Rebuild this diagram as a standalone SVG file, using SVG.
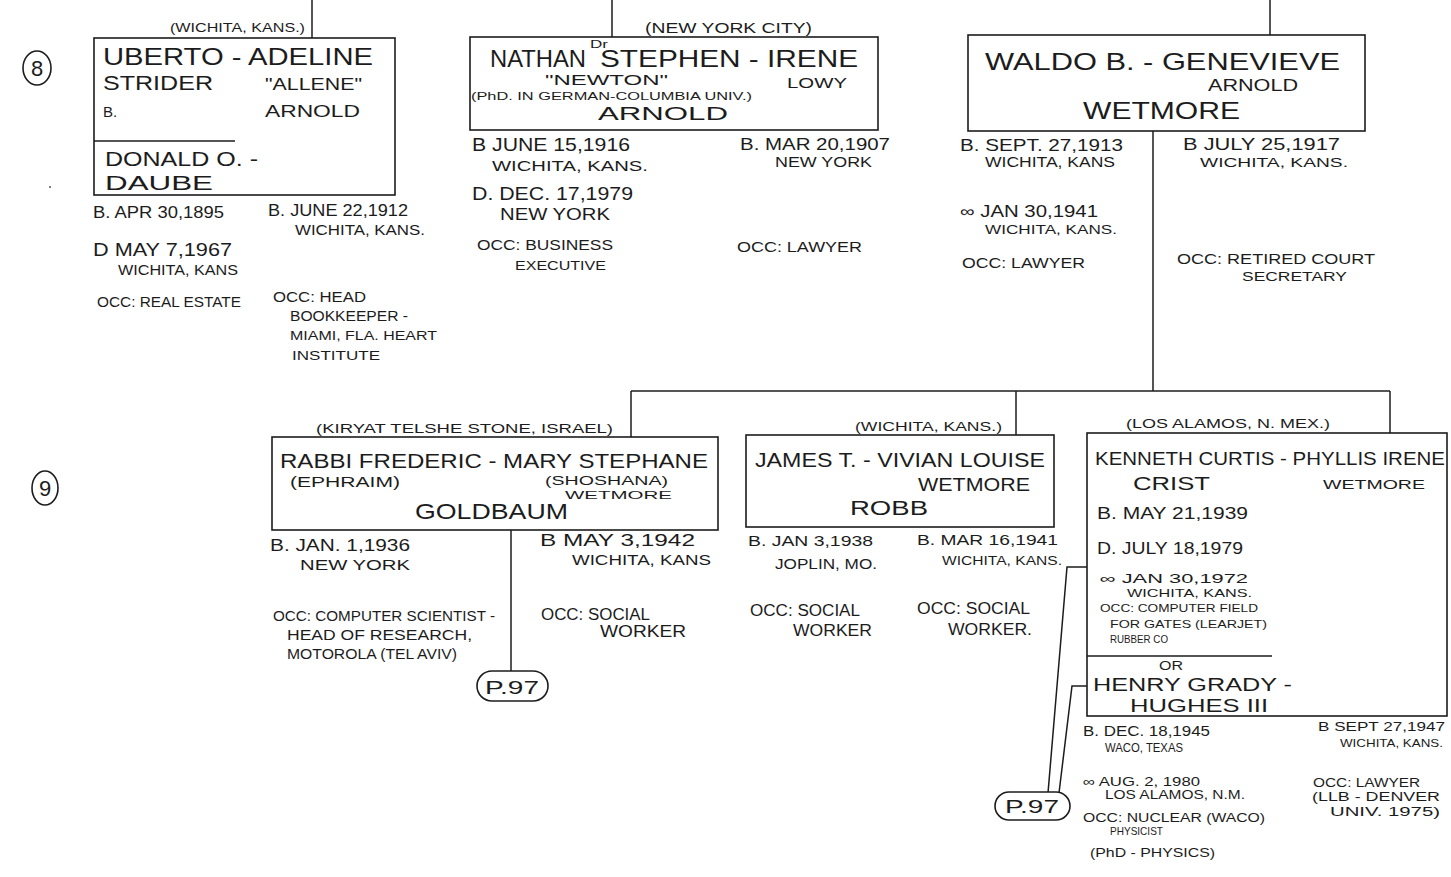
<svg xmlns="http://www.w3.org/2000/svg" width="1451" height="877" viewBox="0 0 1451 877">
<style>
text{font-family:"Liberation Sans","DejaVu Sans",Arial,sans-serif;fill:#1c1c1c;}
.box{fill:none;stroke:#1c1c1c;stroke-width:1.6;}
.ln{fill:none;stroke:#1c1c1c;stroke-width:1.5;}
.ov{fill:#fff;stroke:#1c1c1c;stroke-width:1.6;}
</style>
<rect width="1451" height="877" fill="#ffffff"/>

<g id="gen-markers">
<ellipse cx="37" cy="68" rx="14" ry="17" class="box"/>
<text x="37" y="76" font-size="22" text-anchor="middle">8</text>
<ellipse cx="45" cy="488" rx="13" ry="17" class="box"/>
<text x="45" y="496" font-size="22" text-anchor="middle">9</text>
<circle cx="50" cy="187" r="1" fill="#555"/>
</g>

<g id="connectors">
<path class="ln" d="M312,0 V38"/>
<path class="ln" d="M612,0 V37"/>
<path class="ln" d="M1270,0 V35"/>
<path class="ln" d="M1153,131 V391"/>
<path class="ln" d="M631,391 H1390"/>
<path class="ln" d="M631,391 V437"/>
<path class="ln" d="M1016,391 V435"/>
<path class="ln" d="M1390,391 V433"/>
<path class="ln" d="M511,530 V671"/>
<path class="ln" d="M1087,567 H1067 L1048,793"/>
<path class="ln" d="M1087,686 H1072 L1059,793"/>
</g>

<g id="node-strider-daube">
<text x="170" y="32" font-size="12" textLength="135" lengthAdjust="spacingAndGlyphs">(WICHITA, KANS.)</text>
<rect x="94" y="38" width="301" height="157" class="box"/>
<path class="ln" d="M94,141 H235"/>
<text x="103" y="65" font-size="24" textLength="270" lengthAdjust="spacingAndGlyphs">UBERTO - ADELINE</text>
<text x="103" y="90" font-size="20" textLength="110" lengthAdjust="spacingAndGlyphs">STRIDER</text>
<text x="265" y="90" font-size="17" textLength="97" lengthAdjust="spacingAndGlyphs">"ALLENE"</text>
<text x="103" y="117" font-size="15">B.</text>
<text x="265" y="117" font-size="17" textLength="95" lengthAdjust="spacingAndGlyphs">ARNOLD</text>
<text x="105" y="166" font-size="20" textLength="153" lengthAdjust="spacingAndGlyphs">DONALD O. -</text>
<text x="105" y="190" font-size="20" textLength="108" lengthAdjust="spacingAndGlyphs">DAUBE</text>
<text x="93" y="218" font-size="16" textLength="131" lengthAdjust="spacingAndGlyphs">B. APR 30,1895</text>
<text x="268" y="216" font-size="16" textLength="140" lengthAdjust="spacingAndGlyphs">B. JUNE 22,1912</text>
<text x="295" y="235" font-size="14" textLength="130" lengthAdjust="spacingAndGlyphs">WICHITA, KANS.</text>
<text x="93" y="256" font-size="18" textLength="139" lengthAdjust="spacingAndGlyphs">D MAY 7,1967</text>
<text x="118" y="275" font-size="14" textLength="120" lengthAdjust="spacingAndGlyphs">WICHITA, KANS</text>
<text x="97" y="307" font-size="14" textLength="144" lengthAdjust="spacingAndGlyphs">OCC: REAL ESTATE</text>
<text x="273" y="302" font-size="14" textLength="93" lengthAdjust="spacingAndGlyphs">OCC: HEAD</text>
<text x="290" y="321" font-size="14" textLength="118" lengthAdjust="spacingAndGlyphs">BOOKKEEPER -</text>
<text x="290" y="340" font-size="13" textLength="147" lengthAdjust="spacingAndGlyphs">MIAMI, FLA. HEART</text>
<text x="292" y="360" font-size="13" textLength="88" lengthAdjust="spacingAndGlyphs">INSTITUTE</text>
</g>

<g id="node-arnold-lowy">
<text x="645" y="33" font-size="14" textLength="167" lengthAdjust="spacingAndGlyphs">(NEW YORK CITY)</text>
<rect x="470" y="37" width="408" height="93" class="box"/>
<text x="490" y="67" font-size="24" textLength="96" lengthAdjust="spacingAndGlyphs">NATHAN</text>
<text x="590" y="48" font-size="11" textLength="18" lengthAdjust="spacingAndGlyphs">Dr</text>
<text x="600" y="67" font-size="24" textLength="258" lengthAdjust="spacingAndGlyphs">STEPHEN - IRENE</text>
<text x="545" y="85" font-size="15" textLength="123" lengthAdjust="spacingAndGlyphs">"NEWTON"</text>
<text x="787" y="88" font-size="15" textLength="60" lengthAdjust="spacingAndGlyphs">LOWY</text>
<text x="471" y="100" font-size="11" textLength="281" lengthAdjust="spacingAndGlyphs">(PhD. IN GERMAN-COLUMBIA UNIV.)</text>
<text x="598" y="120" font-size="18" textLength="130" lengthAdjust="spacingAndGlyphs">ARNOLD</text>
<text x="472" y="151" font-size="18" textLength="158" lengthAdjust="spacingAndGlyphs">B JUNE 15,1916</text>
<text x="492" y="171" font-size="15" textLength="156" lengthAdjust="spacingAndGlyphs">WICHITA, KANS.</text>
<text x="472" y="200" font-size="18" textLength="161" lengthAdjust="spacingAndGlyphs">D. DEC. 17,1979</text>
<text x="500" y="220" font-size="16" textLength="110" lengthAdjust="spacingAndGlyphs">NEW YORK</text>
<text x="477" y="250" font-size="15" textLength="136" lengthAdjust="spacingAndGlyphs">OCC: BUSINESS</text>
<text x="515" y="270" font-size="13" textLength="91" lengthAdjust="spacingAndGlyphs">EXECUTIVE</text>
<text x="740" y="150" font-size="17" textLength="150" lengthAdjust="spacingAndGlyphs">B. MAR 20,1907</text>
<text x="775" y="167" font-size="15" textLength="97" lengthAdjust="spacingAndGlyphs">NEW YORK</text>
<text x="737" y="252" font-size="15" textLength="125" lengthAdjust="spacingAndGlyphs">OCC: LAWYER</text>
</g>

<g id="node-wetmore-arnold">
<rect x="968" y="35" width="397" height="96" class="box"/>
<text x="985" y="70" font-size="24" textLength="355" lengthAdjust="spacingAndGlyphs">WALDO  B. - GENEVIEVE</text>
<text x="1208" y="91" font-size="16" textLength="90" lengthAdjust="spacingAndGlyphs">ARNOLD</text>
<text x="1083" y="119" font-size="24" textLength="157" lengthAdjust="spacingAndGlyphs">WETMORE</text>
<text x="960" y="151" font-size="17" textLength="163" lengthAdjust="spacingAndGlyphs">B. SEPT. 27,1913</text>
<text x="985" y="167" font-size="14" textLength="130" lengthAdjust="spacingAndGlyphs">WICHITA, KANS</text>
<text x="960" y="217" font-size="16" textLength="138" lengthAdjust="spacingAndGlyphs">∞ JAN 30,1941</text>
<text x="985" y="234" font-size="12" textLength="132" lengthAdjust="spacingAndGlyphs">WICHITA, KANS.</text>
<text x="962" y="268" font-size="15" textLength="123" lengthAdjust="spacingAndGlyphs">OCC: LAWYER</text>
<text x="1183" y="150" font-size="16" textLength="157" lengthAdjust="spacingAndGlyphs">B JULY 25,1917</text>
<text x="1200" y="167" font-size="13" textLength="148" lengthAdjust="spacingAndGlyphs">WICHITA, KANS.</text>
<text x="1177" y="264" font-size="14" textLength="198" lengthAdjust="spacingAndGlyphs">OCC: RETIRED COURT</text>
<text x="1242" y="281" font-size="13" textLength="105" lengthAdjust="spacingAndGlyphs">SECRETARY</text>
</g>

<g id="node-goldbaum">
<text x="316" y="433" font-size="13" textLength="297" lengthAdjust="spacingAndGlyphs">(KIRYAT TELSHE STONE, ISRAEL)</text>
<rect x="272" y="437" width="446" height="93" class="box"/>
<text x="280" y="468" font-size="20" textLength="428" lengthAdjust="spacingAndGlyphs">RABBI  FREDERIC - MARY STEPHANE</text>
<text x="290" y="487" font-size="15" textLength="110" lengthAdjust="spacingAndGlyphs">(EPHRAIM)</text>
<text x="545" y="485" font-size="13" textLength="123" lengthAdjust="spacingAndGlyphs">(SHOSHANA)</text>
<text x="565" y="499" font-size="11" textLength="107" lengthAdjust="spacingAndGlyphs">WETMORE</text>
<text x="415" y="519" font-size="22" textLength="153" lengthAdjust="spacingAndGlyphs">GOLDBAUM</text>
<text x="270" y="551" font-size="17" textLength="140" lengthAdjust="spacingAndGlyphs">B. JAN. 1,1936</text>
<text x="300" y="570" font-size="15" textLength="110" lengthAdjust="spacingAndGlyphs">NEW YORK</text>
<text x="540" y="546" font-size="17" textLength="155" lengthAdjust="spacingAndGlyphs">B  MAY 3,1942</text>
<text x="572" y="565" font-size="15" textLength="139" lengthAdjust="spacingAndGlyphs">WICHITA, KANS</text>
<text x="273" y="621" font-size="15" textLength="222" lengthAdjust="spacingAndGlyphs">OCC: COMPUTER SCIENTIST -</text>
<text x="287" y="640" font-size="15" textLength="185" lengthAdjust="spacingAndGlyphs">HEAD OF RESEARCH,</text>
<text x="287" y="659" font-size="14" textLength="170" lengthAdjust="spacingAndGlyphs">MOTOROLA (TEL AVIV)</text>
<text x="541" y="620" font-size="16" textLength="109" lengthAdjust="spacingAndGlyphs">OCC: SOCIAL</text>
<text x="600" y="637" font-size="16" textLength="86" lengthAdjust="spacingAndGlyphs">WORKER</text>
</g>

<g id="node-ref-goldbaum">
<rect x="477" y="671" width="71" height="30" rx="15" ry="15" class="ov"/>
<text x="512" y="694" font-size="19" text-anchor="middle" textLength="54" lengthAdjust="spacingAndGlyphs">P.97</text>
</g>

<g id="node-robb">
<text x="855" y="431" font-size="13" textLength="147" lengthAdjust="spacingAndGlyphs">(WICHITA, KANS.)</text>
<rect x="746" y="435" width="308" height="92" class="box"/>
<text x="755" y="467" font-size="20" textLength="290" lengthAdjust="spacingAndGlyphs">JAMES T. - VIVIAN LOUISE</text>
<text x="918" y="491" font-size="18" textLength="112" lengthAdjust="spacingAndGlyphs">WETMORE</text>
<text x="850" y="515" font-size="20" textLength="78" lengthAdjust="spacingAndGlyphs">ROBB</text>
<text x="748" y="546" font-size="15" textLength="125" lengthAdjust="spacingAndGlyphs">B. JAN 3,1938</text>
<text x="775" y="569" font-size="14" textLength="102" lengthAdjust="spacingAndGlyphs">JOPLIN, MO.</text>
<text x="917" y="545" font-size="15" textLength="141" lengthAdjust="spacingAndGlyphs">B. MAR 16,1941</text>
<text x="942" y="565" font-size="13" textLength="120" lengthAdjust="spacingAndGlyphs">WICHITA, KANS.</text>
<text x="750" y="616" font-size="16" textLength="110" lengthAdjust="spacingAndGlyphs">OCC: SOCIAL</text>
<text x="793" y="636" font-size="16" textLength="79" lengthAdjust="spacingAndGlyphs">WORKER</text>
<text x="917" y="614" font-size="16" textLength="113" lengthAdjust="spacingAndGlyphs">OCC: SOCIAL</text>
<text x="948" y="635" font-size="16" textLength="84" lengthAdjust="spacingAndGlyphs">WORKER.</text>
</g>

<g id="node-crist-hughes">
<text x="1126" y="428" font-size="13" textLength="204" lengthAdjust="spacingAndGlyphs">(LOS ALAMOS, N. MEX.)</text>
<rect x="1087" y="433" width="360" height="283" class="box"/>
<path class="ln" d="M1087,656 H1272"/>
<text x="1095" y="465" font-size="18" textLength="350" lengthAdjust="spacingAndGlyphs">KENNETH CURTIS - PHYLLIS IRENE</text>
<text x="1133" y="490" font-size="18" textLength="77" lengthAdjust="spacingAndGlyphs">CRIST</text>
<text x="1323" y="489" font-size="13" textLength="102" lengthAdjust="spacingAndGlyphs">WETMORE</text>
<text x="1097" y="519" font-size="16" textLength="151" lengthAdjust="spacingAndGlyphs">B. MAY 21,1939</text>
<text x="1097" y="554" font-size="16" textLength="146" lengthAdjust="spacingAndGlyphs">D. JULY 18,1979</text>
<text x="1100" y="583" font-size="13" textLength="148" lengthAdjust="spacingAndGlyphs">∞ JAN 30,1972</text>
<text x="1127" y="597" font-size="11" textLength="125" lengthAdjust="spacingAndGlyphs">WICHITA, KANS.</text>
<text x="1100" y="612" font-size="11" textLength="158" lengthAdjust="spacingAndGlyphs">OCC: COMPUTER FIELD</text>
<text x="1110" y="628" font-size="11" textLength="157" lengthAdjust="spacingAndGlyphs">FOR GATES (LEARJET)</text>
<text x="1110" y="643" font-size="11" textLength="58" lengthAdjust="spacingAndGlyphs">RUBBER CO</text>
<text x="1159" y="670" font-size="12" textLength="24" lengthAdjust="spacingAndGlyphs">OR</text>
<text x="1093" y="691" font-size="18" textLength="199" lengthAdjust="spacingAndGlyphs">HENRY  GRADY  -</text>
<text x="1130" y="712" font-size="18" textLength="138" lengthAdjust="spacingAndGlyphs">HUGHES III</text>
<text x="1083" y="736" font-size="14" textLength="127" lengthAdjust="spacingAndGlyphs">B. DEC. 18,1945</text>
<text x="1105" y="752" font-size="12" textLength="78" lengthAdjust="spacingAndGlyphs">WACO, TEXAS</text>
<text x="1318" y="731" font-size="13" textLength="127" lengthAdjust="spacingAndGlyphs">B SEPT 27,1947</text>
<text x="1340" y="747" font-size="11" textLength="103" lengthAdjust="spacingAndGlyphs">WICHITA, KANS.</text>
<text x="1083" y="786" font-size="13" textLength="117" lengthAdjust="spacingAndGlyphs">∞ AUG. 2, 1980</text>
<text x="1105" y="799" font-size="12" textLength="140" lengthAdjust="spacingAndGlyphs">LOS ALAMOS, N.M.</text>
<text x="1083" y="822" font-size="12" textLength="182" lengthAdjust="spacingAndGlyphs">OCC: NUCLEAR (WACO)</text>
<text x="1110" y="835" font-size="11" textLength="53" lengthAdjust="spacingAndGlyphs">PHYSICIST</text>
<text x="1090" y="857" font-size="12" textLength="125" lengthAdjust="spacingAndGlyphs">(PhD - PHYSICS)</text>
<text x="1313" y="787" font-size="12" textLength="107" lengthAdjust="spacingAndGlyphs">OCC: LAWYER</text>
<text x="1312" y="801" font-size="12" textLength="128" lengthAdjust="spacingAndGlyphs">(LLB - DENVER</text>
<text x="1330" y="816" font-size="12" textLength="110" lengthAdjust="spacingAndGlyphs">UNIV. 1975)</text>
</g>

<g id="node-ref-crist">
<rect x="995" y="792" width="75" height="28" rx="14" ry="14" class="ov"/>
<text x="1032" y="813" font-size="19" text-anchor="middle" textLength="54" lengthAdjust="spacingAndGlyphs">P.97</text>
</g>
</svg>
